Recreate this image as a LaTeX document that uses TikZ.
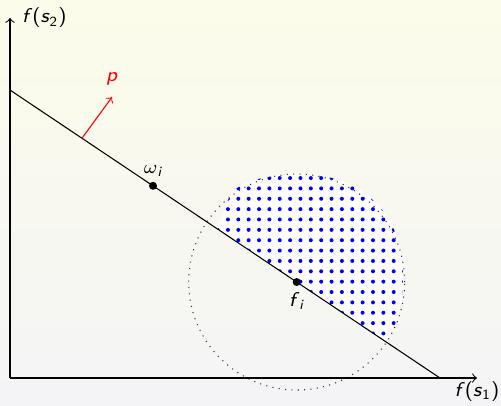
\documentclass[tikz,border=0pt]{standalone}
\usepackage{amsmath}
\usepackage{fontspec}
\usetikzlibrary{
  arrows.meta,
  positioning,
  calc,
  patterns
}
\definecolor{bgtop}{RGB}{252,252,234}
\definecolor{bgbot}{RGB}{244,244,246}
% pontos mais espacados que o padrao
\pgfdeclarepatternformonly{bolinhas}{\pgfqpoint{-1pt}{-1pt}}{\pgfqpoint{1pt}{1pt}}{\pgfqpoint{3.9pt}{3.9pt}}%
{
  \pgfpathcircle{\pgfqpoint{0pt}{0pt}}{.75pt}
  \pgfusepath{fill}
}
\newcommand{\vi}[1]{\textsf{\itshape #1}}
\newcommand{\fun}[1]{\vi{f}\textsf{(}\vi{s}$_{\textsf{#1}}$\textsf{)}}

\begin{document}
\begin{tikzpicture}[
        >=to,
        font=\fontsize{7.5}{9}\selectfont,
        eixo/.style={->, black},
        reta/.style={black},
        normal/.style={->, red},
        ponto/.style={circle, fill=black, inner sep=0pt, minimum size=3pt},
        regiao/.style={pattern=bolinhas, pattern color=blue, preaction={fill=white}},
        bola/.style={dotted, black!80}
    ]
        % fundo
        \shade[top color=bgtop, bottom color=bgbot] (-0.132,-0.370) rectangle (6.496,5.001);
        \useasboundingbox (-0.132,-0.370) rectangle (6.496,5.001);
        \coordinate (o) at (0,0);
        \coordinate (ytip) at (0,4.763);
        \coordinate (xtip) at (6.178,0);
        \coordinate (a) at (0,3.810);
        \coordinate (b) at (5.689,0);
        \coordinate (w) at ($(a)!0.3326!(b)$);
        \coordinate (fi) at ($(a)!0.6667!(b)$);
        \coordinate (pbase) at ($(a)!0.1674!(b)$);
        \coordinate (ptip) at ($(pbase)+(0.397,0.543)$);
        % regiao pontilhada (acima da reta)
        \begin{scope}
            \clip (a) -- (b) -- (6.4,5) -- (0,5) -- cycle;
            \fill[regiao] plot[smooth cycle, tension=0.6] coordinates {
                (2.831,1.759) (2.831,2.196) (3.043,2.540) (3.638,2.686)
                (4.366,2.619) (4.868,2.289) (5.133,1.826) (5.199,1.296)
                (5.106,0.741) (4.762,0.370) (3.836,0.767)};
        \end{scope}
        \draw[bola] (fi) circle (1.429);
        % eixos
        \draw[eixo] (o) -- (ytip);
        \draw[eixo] (o) -- (xtip);
        \node[right=1pt] (ylab) at (ytip) {\fun{2}};
        \node[below=0pt, inner sep=1pt] (xlab) at (xtip) {\fun{1}};
        % reta e vetor normal
        \draw[reta] (a) -- (b);
        \draw[normal] (pbase) -- (ptip);
        \node[above=1pt, text=red] (plab) at (ptip) {\vi{p}};
        \node[ponto] (wi) at (w) {};
        \node[above=0pt] (wlab) at (wi) {$\omega$$_{\textsf{\itshape i}}$};
        \node[ponto] (fpt) at (fi) {};
        \node[below=0.5pt] (flab) at (fpt) {\vi{f}$_{\textsf{\itshape i}}$};
    \end{tikzpicture}
\end{document}
